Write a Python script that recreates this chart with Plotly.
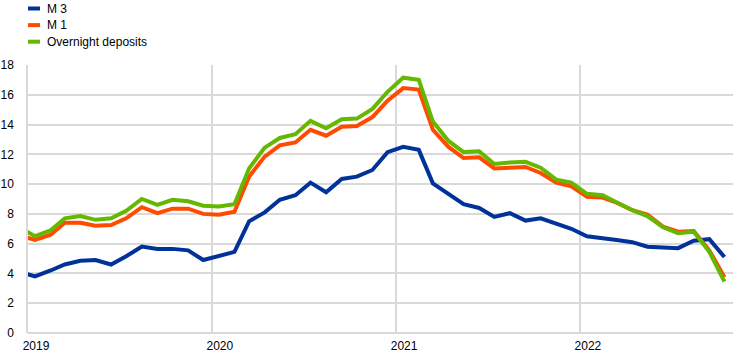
import pandas as pd
import plotly.graph_objects as go

# Monthly observations, Dec 2018 .. Oct 2022 (plotted mid-month)
months = pd.date_range("2018-12-01", "2022-10-01", freq="MS") + pd.Timedelta(days=14)

series_names = ["M 3", "M 1", "Overnight deposits"]
series_colors = ["#003299", "#FF4B00", "#65B800"]

m3 = [4.1, 3.8, 4.2, 4.6, 4.85, 4.9, 4.6, 5.15, 5.8, 5.65, 5.65, 5.55, 4.9,
      5.2, 5.45, 7.5, 8.1, 8.95, 9.25, 10.1, 9.45, 10.35, 10.5, 10.95, 12.15,
      12.5, 12.3, 10.05, 9.3, 8.65, 8.4, 7.8, 8.05, 7.55, 7.7, 7.35, 7.0,
      6.5, 6.4, 6.25, 6.1, 5.8, 5.75, 5.7, 6.2, 6.3, 5.1]
m1 = [6.55, 6.25, 6.6, 7.4, 7.4, 7.2, 7.25, 7.7, 8.45, 8.05, 8.35, 8.35, 8.0,
      7.95, 8.15, 10.5, 11.85, 12.6, 12.8, 13.65, 13.25, 13.85, 13.9, 14.5, 15.6,
      16.45, 16.35, 13.65, 12.5, 11.75, 11.8, 11.05, 11.1, 11.15, 10.75, 10.1, 9.85,
      9.15, 9.1, 8.75, 8.25, 7.95, 7.15, 6.8, 6.85, 5.55, 3.75]
overnight = [7.1, 6.5, 6.9, 7.7, 7.85, 7.6, 7.7, 8.2, 9.0, 8.6, 8.95, 8.85, 8.55,
             8.5, 8.65, 11.05, 12.45, 13.1, 13.35, 14.25, 13.75, 14.35, 14.4, 15.05, 16.2,
             17.15, 17.0, 14.2, 12.9, 12.15, 12.2, 11.35, 11.45, 11.5, 11.1, 10.3, 10.1,
             9.35, 9.25, 8.8, 8.25, 7.85, 7.1, 6.7, 6.8, 5.45, 3.45]

year_ticks = ["2019-01-01", "2020-01-01", "2021-01-01", "2022-01-01"]
year_labels = ["2019", "2020", "2021", "2022"]
y_ticks = list(range(0, 19, 2))

FONT = "Liberation Sans, Arial, sans-serif"
GRID = "#d9d9d9"

fig = go.Figure()
for name, vals, col in zip(series_names, [m3, m1, overnight], series_colors):
    fig.add_trace(go.Scatter(x=months, y=vals, mode="lines", name=name,
                             line=dict(color=col, width=4), showlegend=False,
                             hoverinfo="skip"))

# Manual legend (short thick line + label)
W, H = 742, 359
ml, mr, mt, mb = 28, 9, 65, 26
pw, ph = W - ml - mr, H - mt - mb
def px_x(x):
    return (x - ml) / pw
def px_y(y):
    return (H - mb - y) / ph
for i, (name, col) in enumerate(zip(series_names, series_colors)):
    yy = 8.5 + i * 16.6
    fig.add_shape(type="line", xref="paper", yref="paper",
                  x0=px_x(28), x1=px_x(40), y0=px_y(yy), y1=px_y(yy),
                  line=dict(color=col, width=4))
    fig.add_annotation(xref="paper", yref="paper", x=px_x(45), y=px_y(yy),
                       text=name, showarrow=False, xanchor="left", yanchor="middle",
                       font=dict(family=FONT, size=12, color="#000000"))

fig.update_layout(
    width=W, height=H,
    margin=dict(l=ml, r=mr, t=mt, b=mb, pad=0, autoexpand=False),
    paper_bgcolor="white", plot_bgcolor="white",
    font=dict(family=FONT, size=12, color="#000000"),
    hovermode=False,
    xaxis=dict(range=["2019-01-01", "2022-11-01"], tickvals=year_ticks,
               ticktext=year_labels, showgrid=True, gridcolor=GRID, gridwidth=1.5,
               ticks="", ticklabelshift=8, ticklabelstandoff=4, automargin=False,
               showline=False, zeroline=False),
    yaxis=dict(range=[0, 18], tickvals=y_ticks, showgrid=True, gridcolor=GRID,
               gridwidth=1.5, ticks="", ticklabelstandoff=10, automargin=False,
               showline=True, linecolor=GRID, linewidth=1.5,
               zeroline=True, zerolinecolor=GRID, zerolinewidth=1.5),
)

fig.write_html("out.html", config={"displayModeBar": False},
               post_script="document.body.style.margin='0';document.body.style.overflow='hidden';")
